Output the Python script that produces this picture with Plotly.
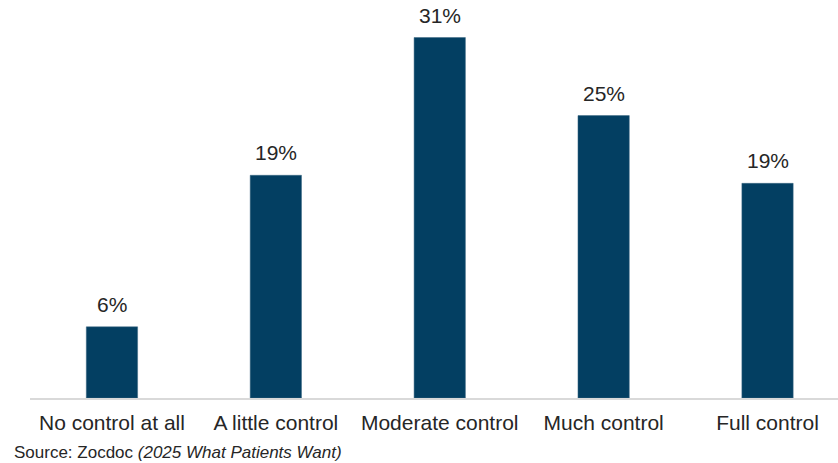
import plotly.graph_objects as go

categories = ["No control at all", "A little control", "Moderate control", "Much control", "Full control"]
values = [6.2, 19.4, 31.4, 24.6, 18.7]
source_text = "Source: Zocdoc <i>(2025 What Patients Want)</i>"

FONT = "Arial, 'Liberation Sans', sans-serif"
BAR = "#033F62"
TXT = "#262626"

fig = go.Figure()
fig.add_trace(go.Bar(
    x=list(range(len(categories))), y=values,
    marker=dict(color=BAR, line=dict(color="#3a6680", width=0.5)),
    hoverinfo="skip",
))

for i, v in enumerate(values):
    fig.add_annotation(x=i, y=v, text=f"{round(v)}%", showarrow=False,
                       yanchor="bottom", yshift=9,
                       font=dict(family=FONT, size=21, color=TXT))

fig.add_annotation(xref="paper", yref="paper", x=-0.0223, y=-0.1357,
                   xanchor="left", yanchor="middle", showarrow=False,
                   text=source_text, font=dict(family=FONT, size=17, color=TXT))

fig.update_layout(
    width=838, height=463,
    margin=dict(l=30, r=0, t=0, b=65),
    paper_bgcolor="white", plot_bgcolor="white",
    bargap=0.687, showlegend=False,
    xaxis=dict(tickmode="array", tickvals=list(range(len(categories))), ticktext=categories,
               range=[-0.5, 4.43], showline=True, linecolor="#d9d9d9", linewidth=1.5,
               showgrid=False, zeroline=False, ticks="", ticklabelstandoff=5,
               tickfont=dict(family=FONT, size=21, color=TXT)),
    yaxis=dict(range=[0, 34.67], visible=False, showgrid=False, zeroline=False),
)

fig.write_html("out.html")
